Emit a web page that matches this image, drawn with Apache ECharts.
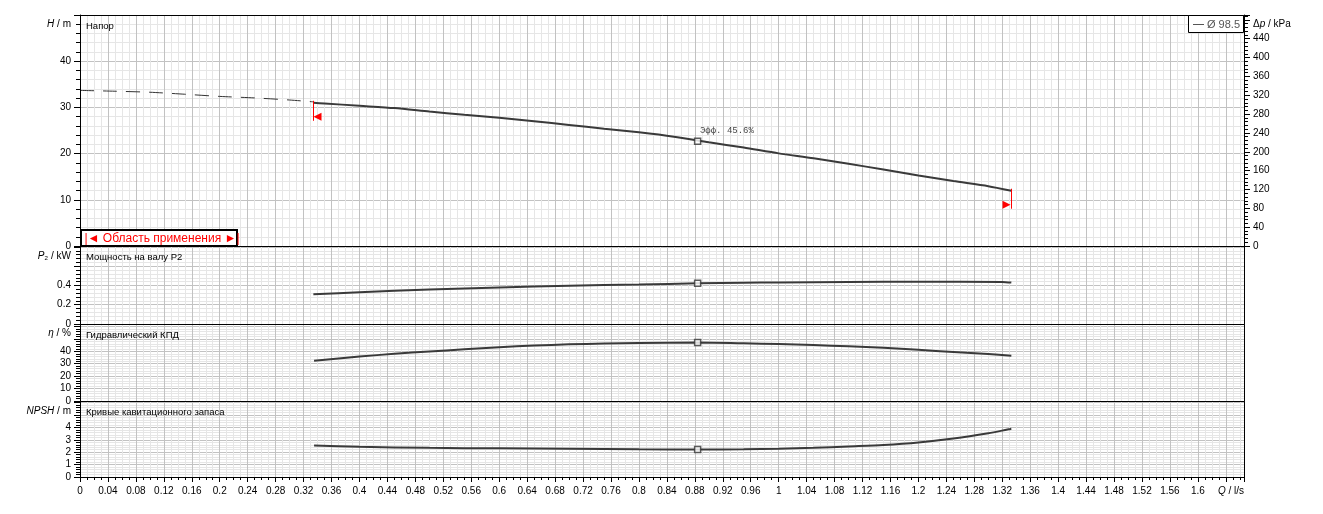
<!DOCTYPE html>
<html><head><meta charset="utf-8">
<script src="https://cdn.jsdelivr.net/npm/echarts@6/dist/echarts.min.js"></script>
<style>html,body{margin:0;padding:0;background:#fff}#c{width:1323px;height:514px}</style>
</head><body><div id="c"></div>
<script>
// ---- data ----
const qHeadDashed = [0, 0.05, 0.1, 0.15, 0.2, 0.25, 0.3, 0.334];
const headDashed  = [33.68, 33.5, 33.28, 32.85, 32.38, 32.05, 31.6, 31.2];
const qHead = [0.334, 0.35, 0.4, 0.45, 0.5, 0.55, 0.6, 0.65, 0.7, 0.75, 0.8, 0.85, 0.9, 0.95, 1.0, 1.05, 1.1, 1.15, 1.2, 1.25, 1.3, 1.333];
const head  = [31.0, 30.85, 30.35, 29.85, 29.1, 28.4, 27.75, 27.0, 26.2, 25.4, 24.6, 23.65, 22.45, 21.3, 20.05, 19.0, 17.8, 16.55, 15.25, 14.05, 12.95, 11.96];
const qPower = [0.334, 0.4, 0.5, 0.6, 0.7, 0.8, 0.884, 0.95, 1.0, 1.1, 1.2, 1.32, 1.333];
const power  = [0.308, 0.33, 0.357, 0.378, 0.398, 0.41, 0.422, 0.428, 0.432, 0.437, 0.438, 0.437, 0.43];
const qEff = [0.335, 0.4, 0.45, 0.5, 0.55, 0.6, 0.65, 0.7, 0.75, 0.8, 0.884, 0.95, 1.0, 1.05, 1.1, 1.15, 1.2, 1.25, 1.3, 1.333];
const eff  = [32.4, 35.8, 38.0, 39.9, 41.6, 43.3, 44.7, 45.6, 46.2, 46.7, 47.1, 46.5, 45.8, 45.0, 44.0, 42.8, 41.2, 39.5, 37.8, 36.4];
const qNpsh = [0.335, 0.4, 0.5, 0.6, 0.7, 0.8, 0.884, 0.95, 1.0, 1.05, 1.1, 1.15, 1.2, 1.25, 1.3, 1.333];
const npsh  = [2.54, 2.43, 2.35, 2.31, 2.27, 2.23, 2.22, 2.24, 2.28, 2.35, 2.47, 2.59, 2.79, 3.1, 3.53, 3.89];
const bepQ = 0.884, bepH = 22.7, bepP = 0.422, bepEff = 47.1, bepNpsh = 2.22;
const bepNote = 'Эфф. 45.6%';
const limitQ = [0.334, 1.333];
const limitH = [31.0, 11.96];
const limitDir = [-1, 1];
const panelTitles = ['Напор', 'Мощность на валу P2', 'Гидравлический КПД', 'Кривые кавитационного запаса'];
const legendText = 'Ø 98.5';
const rangeText = '|◄ Область применения ►|';
const qMax = 1.666, qStep = 0.04, qLabelMax = 1.6;
const yMax = [50, 0.81, 62, 6.13];
const yStep = [10, 0.2, 10, 1];
const yLabelMax = [40, 0.4, 40, 4];
const kPaMax = 50 * 9.80665, kPaStep = 40, kPaLabelMax = 440;

// ---- layout ----
const L = 80, R = 1244;
const tops = [15, 246, 324, 401], bots = [246, 324, 401, 477];
const FONT = 'Liberation Sans, Arial, DejaVu Sans, sans-serif';
const MAJ = '#c2c2c2', MIN = '#e6e6e6', CURVE = '#3a3a3a';

const zip = (a, b) => a.map((v, i) => [v, b[i]]);
const isMult = (v, s) => Math.abs(v / s - Math.round(v / s)) < 1e-6;

const grids = tops.map((t, i) => ({
  left: L, width: R - L, top: t, height: bots[i] - t, show: false, containLabel: false
}));

const xAxes = tops.map((t, i) => ({
  type: 'value', gridIndex: i, min: 0, max: qMax, interval: qStep,
  axisLine: { show: i === 3, lineStyle: { color: '#000', width: 1 } },
  axisTick: { show: i === 3, length: 5, lineStyle: { color: '#000' } },
  minorTick: { show: i === 3, splitNumber: 4, length: 3, lineStyle: { color: '#000' } },
  axisLabel: {
    show: i === 3, interval: 0, margin: 9, color: '#000', fontSize: 10, fontFamily: FONT,
    formatter: v => (isMult(v, qStep) && v <= qLabelMax + 1e-6) ? String(+v.toFixed(2)) : ''
  },
  splitLine: { show: true, lineStyle: { color: MAJ, width: 1 } },
  minorSplitLine: { show: true, lineStyle: { color: MIN, width: 1 } }
}));

const yAxes = tops.map((t, i) => ({
  type: 'value', gridIndex: i, min: 0, max: yMax[i], interval: yStep[i],
  axisLine: { show: true, lineStyle: { color: '#000' } },
  axisTick: { show: true, length: 6, lineStyle: { color: '#000' } },
  minorTick: { show: true, splitNumber: 5, length: 4, lineStyle: { color: '#000' } },
  axisLabel: {
    show: true, margin: 9, color: '#000', fontSize: 10, fontFamily: FONT,
    formatter: v => (isMult(v, yStep[i]) && v <= yLabelMax[i] + 1e-6) ? String(+v.toFixed(2)) : ''
  },
  splitLine: { show: true, lineStyle: { color: MAJ, width: 1 } },
  minorSplitLine: { show: true, lineStyle: { color: MIN, width: 1 } }
}));
yAxes.push({
  type: 'value', gridIndex: 0, position: 'right', min: 0, max: kPaMax, interval: kPaStep,
  axisLine: { show: true, lineStyle: { color: '#000' } },
  axisTick: { show: true, length: 6, lineStyle: { color: '#000' } },
  minorTick: { show: true, splitNumber: 5, length: 4, lineStyle: { color: '#000' } },
  axisLabel: {
    show: true, margin: 9, color: '#000', fontSize: 10, fontFamily: FONT,
    formatter: v => (isMult(v, kPaStep) && v <= kPaLabelMax + 1e-6) ? String(Math.round(v)) : ''
  },
  splitLine: { show: false }, minorSplitLine: { show: false }
});

const lineSeries = (xi, data, extra) => Object.assign({
  type: 'line', xAxisIndex: xi, yAxisIndex: xi, data, smooth: 0.25, symbol: 'none',
  lineStyle: { color: CURVE, width: 2 }, silent: true, animation: false, z: 3
}, extra || {});

const bepSeries = (xi, pt, label) => ({
  type: 'scatter', xAxisIndex: xi, yAxisIndex: xi, data: [pt], symbol: 'rect', symbolSize: 6,
  itemStyle: { color: '#fff', borderColor: '#333', borderWidth: 1.5 }, z: 5, animation: false,
  label: label ? {
    show: true, position: [6, -11], formatter: label, color: '#111', fontSize: 9,
    fontFamily: 'Liberation Mono, DejaVu Sans Mono, monospace'
  } : { show: false }
});

const series = [
  lineSeries(0, zip(qHeadDashed, headDashed), { lineStyle: { color: '#333', width: 1, type: [14, 9] } }),
  lineSeries(0, zip(qHead, head)),
  lineSeries(1, zip(qPower, power)),
  lineSeries(2, zip(qEff, eff)),
  lineSeries(3, zip(qNpsh, npsh)),
  bepSeries(0, [bepQ, bepH], bepNote),
  bepSeries(1, [bepQ, bepP]),
  bepSeries(2, [bepQ, bepEff]),
  bepSeries(3, [bepQ, bepNpsh]),
  {
    type: 'custom', xAxisIndex: 0, yAxisIndex: 0, z: 6, clip: false, animation: false,
    data: limitQ.map((q, i) => [q, limitH[i], limitDir[i]]),
    renderItem: (params, api) => {
      const p = api.coord([api.value(0), api.value(1)]);
      const dir = api.value(2);
      const x = Math.round(p[0]) + 0.5, y = p[1];
      const pts = dir < 0
        ? [[x, y + 14], [x + 8, y + 10], [x + 8, y + 18]]
        : [[x - 1, y + 14], [x - 9, y + 10], [x - 9, y + 18]];
      return { type: 'group', children: [
        { type: 'line', shape: { x1: x, y1: y - 2, x2: x, y2: y + 18 }, style: { stroke: '#ff0000', lineWidth: 1 } },
        { type: 'polygon', shape: { points: pts }, style: { fill: '#ff0000' } }
      ] };
    }
  }
];

// ---- text / boxes ----
const txt = (x, y, text, align, extra) => Object.assign({
  type: 'text', x, y, z: 100,
  style: Object.assign({ text, fill: '#000', font: '10px ' + FONT, textAlign: align || 'left', textVerticalAlign: 'middle' }, extra || {})
});
const graphic = [];
// panel borders
tops.forEach((t, i) => graphic.push({
  type: 'rect', z: 90, silent: true,
  shape: { x: L + 0.5, y: t + 0.5, width: R - L, height: bots[i] - t },
  style: { fill: null, stroke: '#000', lineWidth: 1 }
}));
const titleY = [26, 257, 335, 412];
const nameY = [24, 256, 333.5, 411];
panelTitles.forEach((t, i) => graphic.push(txt(L + 6, titleY[i], t, 'left', { font: '9.5px ' + FONT })));
const names = ['{i|H} / m', '{i|P}₂ / kW', '{i|η} / %', '{i|NPSH} / m'];
const rich = { i: { fontStyle: 'italic', fontSize: 10, fontFamily: FONT, fill: '#000' } };
names.forEach((n, i) => graphic.push(txt(L - 9, nameY[i], n, 'right', { rich })));
graphic.push(txt(R + 9, 24, 'Δ{i|p} / kPa', 'left', { rich }));
graphic.push(txt(R, 491, '{i|Q} / l/s', 'right', { rich }));
// legend box
graphic.push({ type: 'rect', z: 100, shape: { x: 1188.5, y: 15.5, width: 55, height: 17 }, style: { fill: '#fff', stroke: '#000', lineWidth: 1 } });
graphic.push({ type: 'line', z: 101, shape: { x1: 1193, y1: 24.5, x2: 1204, y2: 24.5 }, style: { stroke: '#555', lineWidth: 1 } });
graphic.push(txt(1207, 24.5, legendText, 'left', { fill: '#555', font: '11px ' + FONT }));
// application range box
graphic.push({ type: 'rect', z: 100, shape: { x: 81, y: 230, width: 156, height: 16 }, style: { fill: '#fff', stroke: '#000', lineWidth: 2 } });
graphic.push(txt(162, 238.5, rangeText, 'center', { fill: '#ff0000', font: '12px ' + FONT }));

const chart = echarts.init(document.getElementById('c'), null, { renderer: 'canvas' });
chart.setOption({
  animation: false,
  backgroundColor: '#fff',
  grid: grids,
  xAxis: xAxes,
  yAxis: yAxes,
  series,
  graphic
});
</script></body></html>
